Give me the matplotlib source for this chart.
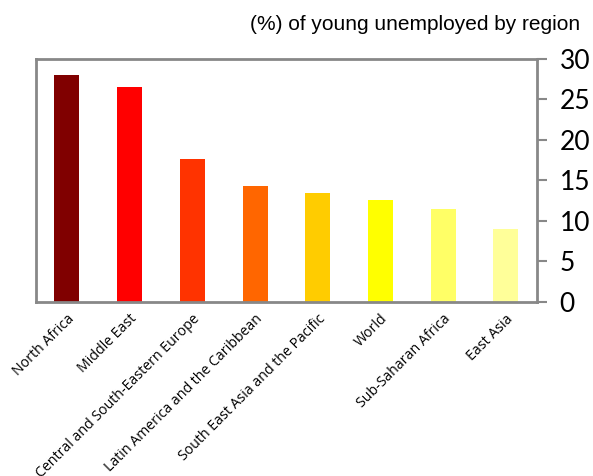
import numpy as np
import matplotlib.pyplot as plt

# data
regions = ['North Africa', 'Middle East', 'Central and South-Eastern Europe',
           'Latin America and the Caribbean', 'South East Asia and the Pacific',
           'World', 'Sub-Saharan Africa', 'East Asia']
values = [28.0, 26.5, 17.65, 14.3, 13.45, 12.6, 11.5, 9.0]
colors = ['#800000', '#FF0000', '#FF3300', '#FF6600', '#FFCC00', '#FFFF00',
          '#FFFF66', '#FFFF99']

fig = plt.figure(figsize=(5.93, 4.76), dpi=100)
ax = fig.add_axes([0.060, 0.366, 0.846, 0.510])

x = np.arange(len(regions))
ax.bar(x, values, width=0.4, color=colors, zorder=2)

ax.set_xlim(-0.5, len(regions) - 0.5)
ax.set_ylim(0, 30)
ax.set_yticks(range(0, 31, 5))
ax.yaxis.tick_right()
ax.tick_params(axis='y', direction='out', length=7, width=1.5, color='#888888',
               labelsize=19, pad=9)
for lbl in ax.get_yticklabels():
    lbl.set_family(['Lato', 'DejaVu Sans'])

ax.set_xticks(x)
ax.set_xticklabels(regions, rotation=45, ha='right', rotation_mode='anchor',
                   fontsize=10.2, family=['Open Sans', 'DejaVu Sans'])
ax.tick_params(axis='x', length=0, pad=7)

for s in ax.spines.values():
    s.set_color('#888888')
    s.set_linewidth(2)

fig.text(0.978, 0.968, '(%) of young unemployed by region', ha='right', va='top',
         fontsize=15, family=['Liberation Sans', 'DejaVu Sans'])

plt.savefig('out.png', dpi=100)
